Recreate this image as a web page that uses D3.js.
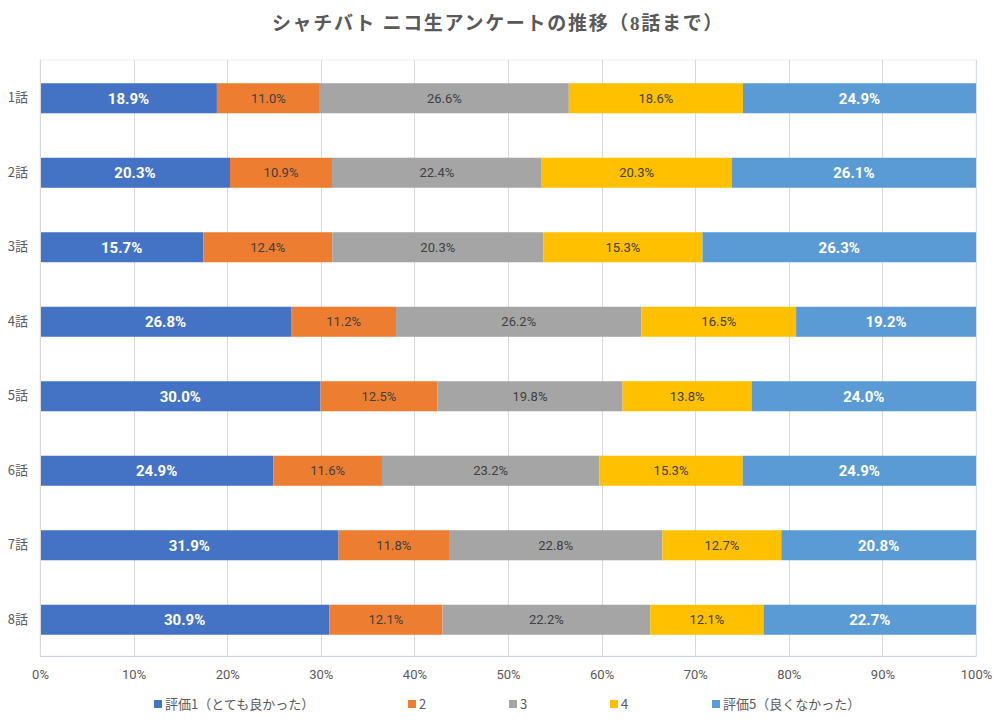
<!DOCTYPE html>
<html><head><meta charset="utf-8">
<script src="https://cdn.jsdelivr.net/npm/d3@7"></script>
<style>
html,body{margin:0;padding:0;background:#fff;}
svg{display:block;}
</style></head>
<body>
<svg id="chart" width="997" height="724"></svg>
<script>
const title = "シャチバト ニコ生アンケートの推移（8話まで）";
const categories = ["1話","2話","3話","4話","5話","6話","7話","8話"];
const seriesNames = ["評価1（とても良かった）","2","3","4","評価5（良くなかった）"];
const seriesColors = ["#4472C4","#ED7D31","#A5A5A5","#FFC000","#5B9BD5"];
const labelColors = ["#ffffff","#404040","#404040","#404040","#ffffff"];
const labelBold = [true,false,false,false,true];
const rating1 = [18.9,20.3,15.7,26.8,30.0,24.9,31.9,30.9];
const rating2 = [11.0,10.9,12.4,11.2,12.5,11.6,11.8,12.1];
const rating3 = [26.6,22.4,20.3,26.2,19.8,23.2,22.8,22.2];
const rating4 = [18.6,20.3,15.3,16.5,13.8,15.3,12.7,12.1];
const rating5 = [24.9,26.1,26.3,19.2,24.0,24.9,20.8,22.7];
const xTicks = [0,0.1,0.2,0.3,0.4,0.5,0.6,0.7,0.8,0.9,1.0];

const seriesValues = [rating1,rating2,rating3,rating4,rating5];
const keys = ["s0","s1","s2","s3","s4"];
const rows = categories.map((c,i)=>{
  const r = {cat:c};
  keys.forEach((k,j)=>r[k]=seriesValues[j][i]);
  return r;
});
const stacked = d3.stack().keys(keys).offset(d3.stackOffsetExpand)(rows);

const svg = d3.select("#chart");
const m = {left:40, right:976, top:60, bottom:656};
const x = d3.scaleLinear().domain([0,1]).range([m.left,m.right]);
const y = d3.scaleBand().domain(categories).range([m.top,m.bottom]).paddingInner(0.597).paddingOuter(0.2985);

const labelFont = "'Liberation Sans Narrow','Arial Narrow','Roboto','Noto Sans CJK JP',sans-serif";
const cjkFont = "'Noto Sans CJK JP','Noto Sans',sans-serif";

// title
svg.append("text").attr("x",498).attr("y",30).attr("text-anchor","middle")
  .attr("font-family","'Liberation Serif','Noto Sans CJK JP',serif")
  .attr("font-size",19).attr("font-weight","bold").attr("fill","#595959")
  .attr("letter-spacing","1.7").text(title);

// plot border (very light)
svg.append("rect").attr("x",m.left).attr("y",m.top).attr("width",m.right-m.left).attr("height",m.bottom-m.top)
  .attr("fill","none").attr("stroke","#eef0f6").attr("stroke-width",1);

// gridlines
svg.append("g").selectAll("line").data(xTicks.slice(1)).join("line")
  .attr("x1",d=>Math.round(x(d))+0.5).attr("x2",d=>Math.round(x(d))+0.5)
  .attr("y1",m.top).attr("y2",m.bottom)
  .attr("stroke",d=>d===1?"#d6dce8":"#d9d9d9").attr("stroke-width",1);

// bars
const g = svg.append("g");
stacked.forEach((s,j)=>{
  g.selectAll(null).data(s).join("rect")
    .attr("x",d=>x(d[0])).attr("width",d=>x(d[1])-x(d[0]))
    .attr("y",d=>y(d.data.cat)+1).attr("height",y.bandwidth())
    .attr("fill",seriesColors[j]);
  g.selectAll(null).data(s).join("text")
    .attr("x",d=>(x(d[0])+x(d[1]))/2)
    .attr("y",d=>y(d.data.cat)+1+y.bandwidth()/2)
    .attr("dy","0.36em").attr("text-anchor","middle")
    .attr("font-family",labelFont)
    .attr("font-size",labelBold[j]?15:13)
    .attr("font-weight",labelBold[j]?"bold":"normal")
    .attr("fill",labelColors[j])
    .text(d=>d.data[keys[j]].toFixed(1)+"%");
});

// axis baseline
svg.append("line").attr("x1",m.left).attr("x2",m.right+0.5).attr("y1",m.bottom+0.5).attr("y2",m.bottom+0.5)
  .attr("stroke","#c9d3e3");
svg.append("line").attr("x1",m.left+0.5).attr("x2",m.left+0.5).attr("y1",m.top).attr("y2",m.bottom)
  .attr("stroke","#d9d9d9");

// x axis
const xAxis = d3.axisBottom(x).tickValues(xTicks).tickFormat(d3.format(".0%")).tickSize(0).tickPadding(14);
const xa = svg.append("g").attr("transform",`translate(0,${m.bottom})`).call(xAxis);
xa.select(".domain").remove();
xa.selectAll("text").attr("font-family",labelFont).attr("font-size",13).attr("fill","#595959");

// y axis
const yAxis = d3.axisLeft(y).tickSize(0).tickPadding(12);
const ya = svg.append("g").attr("transform",`translate(${m.left},1)`).call(yAxis);
ya.select(".domain").remove();
ya.selectAll("text").attr("font-family",cjkFont).attr("font-size",13).attr("fill","#595959");

// legend
const legendX = [154,408,509,610,712];
const lg = svg.append("g");
seriesNames.forEach((n,j)=>{
  lg.append("rect").attr("x",legendX[j]).attr("y",700).attr("width",8).attr("height",8).attr("fill",seriesColors[j]);
  lg.append("text").attr("x",legendX[j]+11).attr("y",704).attr("dy","0.36em")
    .attr("font-family",cjkFont).attr("font-size",13).attr("fill","#595959").text(n);
});
</script>
</body></html>
